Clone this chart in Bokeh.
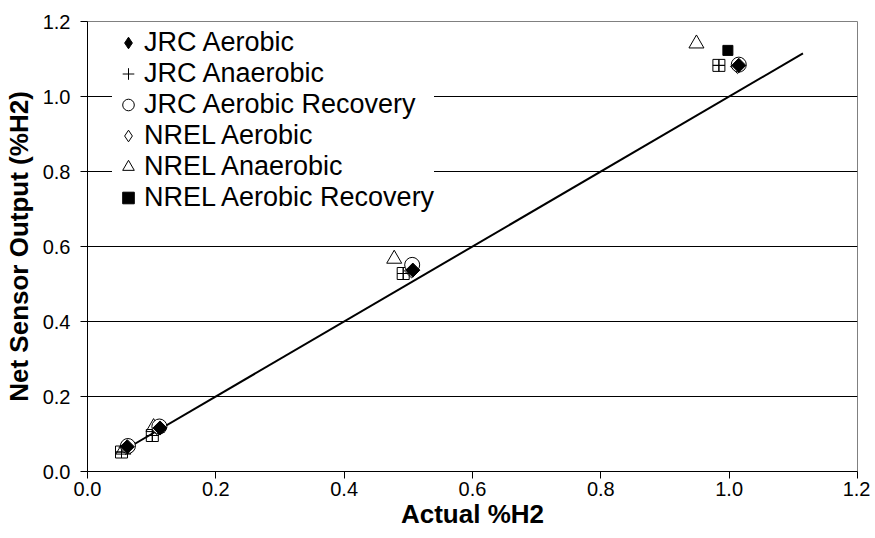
import numpy as np
from bokeh.plotting import figure
from bokeh.models import (FixedTicker, Range1d, Legend, LegendItem, PrintfTickFormatter)
from bokeh.embed import file_html
from bokeh.resources import INLINE

# ---- data ----
jrc_aer_x = [0.062, 0.113, 0.507, 1.015]
jrc_aer_y = [0.066, 0.116, 0.537, 1.083]

jrc_ana_x = [0.053, 0.101, 0.492, 0.984]
jrc_ana_y = [0.052, 0.096, 0.528, 1.083]

jrc_rec_x = [0.063, 0.112, 0.506, 1.015]
jrc_rec_y = [0.068, 0.120, 0.551, 1.085]

nrel_aer_x = [0.060, 0.110, 0.505, 1.013]
nrel_aer_y = [0.064, 0.114, 0.535, 1.080]

nrel_ana_x = [0.056, 0.103, 0.478, 0.949]
nrel_ana_y = [0.058, 0.118, 0.567, 1.141]

nrel_rec_x = [0.063, 0.112, 0.506, 0.998]
nrel_rec_y = [0.067, 0.118, 0.545, 1.123]

line_x = [0.052, 1.115]
line_y = [0.052, 1.115]

ticks = [0.0, 0.2, 0.4, 0.6, 0.8, 1.0, 1.2]

FONT = "Liberation Sans"

p = figure(width=870, height=535, output_backend="svg", toolbar_location=None,
           x_range=Range1d(0, 1.2), y_range=Range1d(0, 1.2),
           min_border_left=86, min_border_right=13, min_border_top=21, min_border_bottom=64)
p.background_fill_color = "white"
p.border_fill_color = "white"
p.outline_line_color = "#808080"
p.outline_line_width = 1

p.xgrid.grid_line_color = None
p.ygrid.grid_line_color = "black"
p.ygrid.grid_line_width = 1
p.ygrid.ticker = FixedTicker(ticks=ticks[1:-1])

for ax in (p.xaxis[0], p.yaxis[0]):
    ax.ticker = FixedTicker(ticks=ticks)
    ax.formatter = PrintfTickFormatter(format="%.1f")
    ax.major_tick_out = 7
    ax.major_tick_in = 0
    ax.minor_tick_line_color = None
    ax.axis_line_color = "black"
    ax.major_tick_line_color = "black"
    ax.major_label_text_font = FONT
    ax.major_label_text_font_size = "20px"
    ax.major_label_text_color = "black"
    ax.axis_label_text_font = FONT
    ax.axis_label_text_font_size = "26px"
    ax.axis_label_text_font_style = "bold"
    ax.axis_label_text_color = "black"

p.xaxis.axis_label = "Actual %H2"
p.yaxis.axis_label = "Net Sensor Output (%H2)"
p.xaxis.major_label_standoff = 3
p.xaxis.axis_label_standoff = 0
p.yaxis.major_label_standoff = 10
p.yaxis.axis_label_standoff = 6

# identity line
p.line(line_x, line_y, line_color="black", line_width=2)

rot = np.pi / 4
# legend-style diamonds (hidden beneath the rotated squares)
r_nrel_aer = p.scatter(nrel_aer_x, nrel_aer_y, marker="diamond", size=7,
                       fill_color="white", line_color="black", line_width=1)
p.scatter(nrel_aer_x, nrel_aer_y, marker="square", angle=rot, size=10,
          fill_color="white", line_color="black", line_width=1)
r_nrel_ana = p.scatter(nrel_ana_x, nrel_ana_y, marker="triangle", size=15,
                       fill_color="white", line_color="black", line_width=1)
p.scatter(jrc_ana_x, jrc_ana_y, marker="square_cross", size=12,
          fill_color="white", fill_alpha=0, line_color="black", line_width=1)
r_jrc_ana = p.scatter(jrc_ana_x, jrc_ana_y, marker="cross", size=12,
                      line_color="black", line_width=1)
r_nrel_rec = p.scatter(nrel_rec_x, nrel_rec_y, marker="square", size=10,
                       fill_color="black", line_color="black", line_width=1)
r_jrc_rec = p.scatter(jrc_rec_x, jrc_rec_y, marker="circle", size=15,
                      fill_color="white", line_color="black", line_width=1)
r_jrc_aer = p.scatter(jrc_aer_x, jrc_aer_y, marker="diamond", size=7,
                      fill_color="black", line_color="black", line_width=1)
p.scatter(jrc_aer_x, jrc_aer_y, marker="square", angle=rot, size=10,
          fill_color="black", line_color="black", line_width=1)

legend = Legend(items=[
    LegendItem(label="JRC Aerobic", renderers=[r_jrc_aer]),
    LegendItem(label="JRC Anaerobic", renderers=[r_jrc_ana]),
    LegendItem(label="JRC Aerobic Recovery", renderers=[r_jrc_rec]),
    LegendItem(label="NREL Aerobic", renderers=[r_nrel_aer]),
    LegendItem(label="NREL Anaerobic", renderers=[r_nrel_ana]),
    LegendItem(label="NREL Aerobic Recovery", renderers=[r_nrel_rec]),
], location=(25, 258))
legend.background_fill_color = "white"
legend.background_fill_alpha = 1.0
legend.border_line_color = None
legend.padding = 10
legend.margin = 0
legend.spacing = 0
legend.glyph_width = 32
legend.glyph_height = 29
legend.label_height = 29
legend.label_standoff = 0
legend.label_text_font = FONT
legend.label_text_font_size = "27px"
legend.label_text_color = "black"
p.add_layout(legend, "center")

open("out.html", "w").write(file_html(p, INLINE))
